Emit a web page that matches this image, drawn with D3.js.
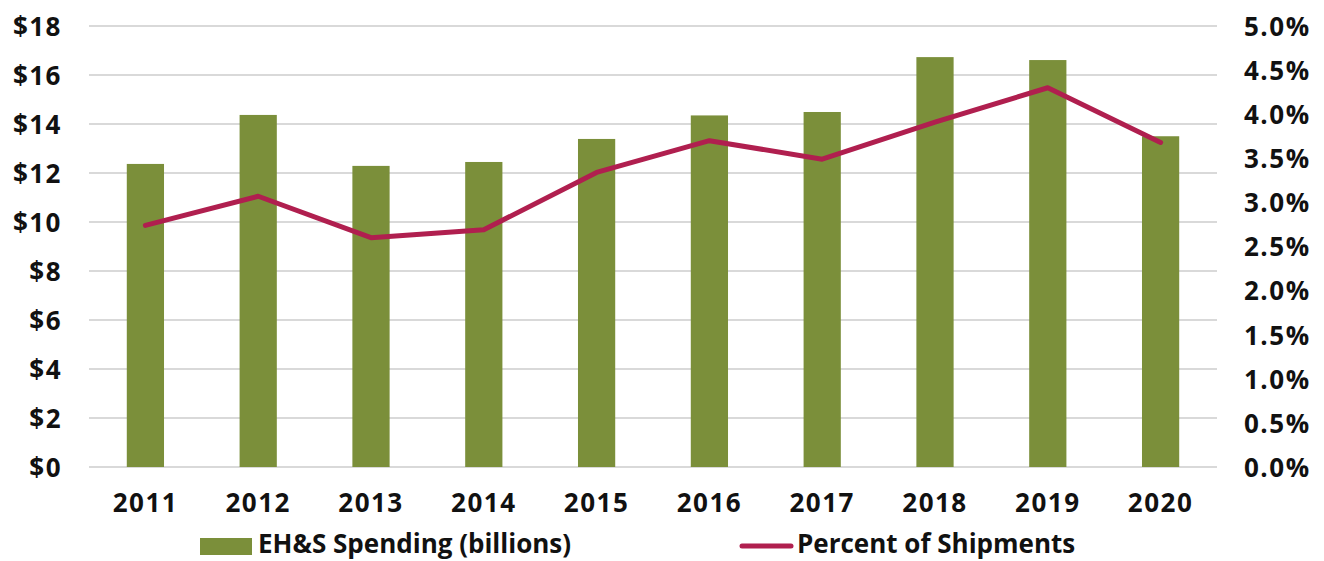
<!DOCTYPE html>
<html><head><meta charset="utf-8">
<script src="https://cdn.jsdelivr.net/npm/d3@7"></script>
<style>body{margin:0;background:#fff}svg text{font-family:"Open Sans",sans-serif;font-weight:700;fill:#111}</style>
</head><body><svg id="c" width="1324" height="561"></svg>
<script>
const years = ["2011","2012","2013","2014","2015","2016","2017","2018","2019","2020"];
const spending = [12.37, 14.37, 12.29, 12.45, 13.39, 14.35, 14.49, 16.73, 16.61, 13.5];
const percent = [2.74, 3.07, 2.60, 2.69, 3.34, 3.70, 3.49, 3.91, 4.30, 3.68];
const leftTicks = [0,2,4,6,8,10,12,14,16,18];
const rightTicks = [0,0.5,1,1.5,2,2.5,3,3.5,4,4.5,5];
const seriesNames = ["EH&S Spending (billions)", "Percent of Shipments"];

const svg = d3.select("#c");
const L = 89, R = 1217, T = 26, B = 467;
const x = d3.scaleBand().domain(years).range([L, R]).paddingInner(0.67).paddingOuter(0.335);
const y = d3.scaleLinear().domain([0,18]).range([B, T]);
const y2 = d3.scaleLinear().domain([0,5]).range([B, T]);
const green = "#7B8F3A", red = "#B01F4F";
const fs = 26, ls = "1.5px";

// gridlines
svg.append("g").selectAll("line").data(leftTicks).join("line")
  .attr("x1", L).attr("x2", R).attr("y1", d => y(d)).attr("y2", d => y(d))
  .attr("stroke", "#d9d9d9").attr("stroke-width", 2);

// left axis
const la = svg.append("g").attr("transform", `translate(${L},0)`)
  .call(d3.axisLeft(y).tickValues(leftTicks).tickSize(0).tickPadding(27).tickFormat(d => "$" + d));
la.select(".domain").remove();
la.selectAll("text").style("font-size", fs + "px").style("letter-spacing", ls).attr("dy", "0.36em");

// right axis
const ra = svg.append("g").attr("transform", `translate(${R},0)`)
  .call(d3.axisRight(y2).tickValues(rightTicks).tickSize(0).tickPadding(27).tickFormat(d => d.toFixed(1) + "%"));
ra.select(".domain").remove();
ra.selectAll("text").style("font-size", fs + "px").style("letter-spacing", ls).attr("dy", "0.36em");

// x axis
const xa = svg.append("g").attr("transform", `translate(0,${B})`)
  .call(d3.axisBottom(x).tickSize(0).tickPadding(27));
xa.select(".domain").remove();
xa.selectAll("text").style("font-size", fs + "px").style("letter-spacing", ls).attr("dy", "0.71em");

// bars
svg.append("g").selectAll("rect").data(years).join("rect")
  .attr("x", d => x(d)).attr("width", x.bandwidth())
  .attr("y", (d,i) => y(spending[i])).attr("height", (d,i) => B - y(spending[i]))
  .attr("fill", green);

// line
const line = d3.line().x((d,i) => x(years[i]) + x.bandwidth()/2).y(d => y2(d));
svg.append("path").datum(percent).attr("d", line)
  .attr("fill", "none").attr("stroke", red).attr("stroke-width", 5)
  .attr("stroke-linejoin", "round").attr("stroke-linecap", "round");

// legend
const lg = svg.append("g");
lg.append("rect").attr("x", 200).attr("y", 538).attr("width", 52).attr("height", 17).attr("fill", green);
lg.append("text").attr("x", 258).attr("y", 553).style("font-size", fs + "px").text(seriesNames[0]);
lg.append("line").attr("x1", 742).attr("x2", 791).attr("y1", 546).attr("y2", 546)
  .attr("stroke", red).attr("stroke-width", 5).attr("stroke-linecap", "round");
lg.append("text").attr("x", 797).attr("y", 553).style("font-size", fs + "px").text(seriesNames[1]);
</script></body></html>
